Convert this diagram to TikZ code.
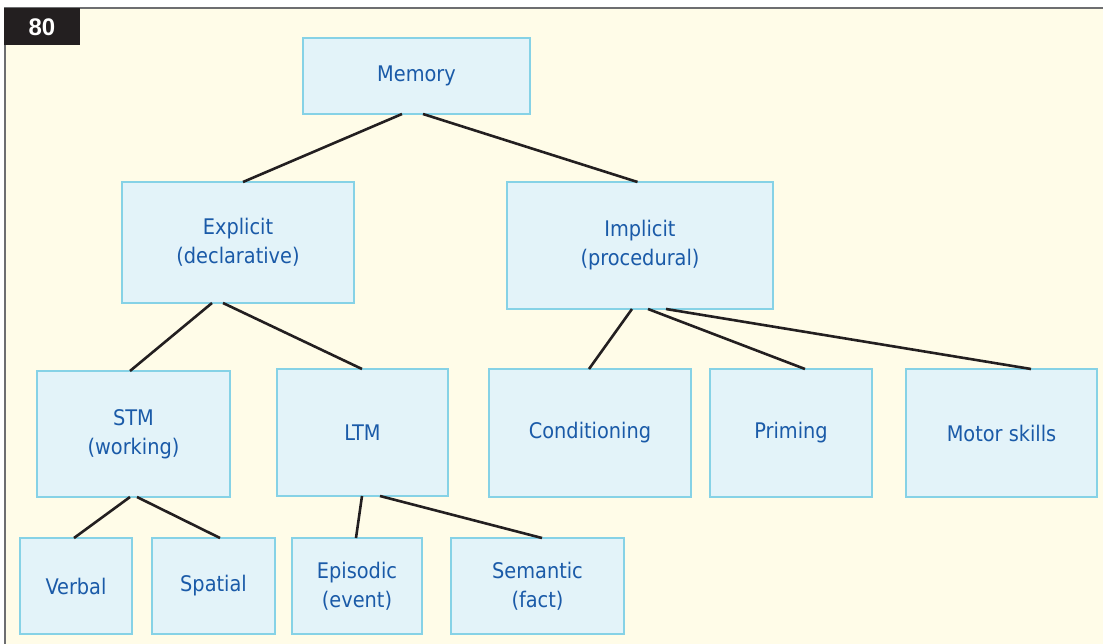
\documentclass[tikz,border=0pt]{standalone}
\usepackage{fontspec}
\setmainfont{DejaVu Sans Condensed}
\newfontfamily\numfont{Liberation Sans}
\definecolor{cream}{HTML}{FFFCE8}
\definecolor{boxfill}{HTML}{E3F3F9}
\definecolor{boxline}{HTML}{86D2E6}
\definecolor{txtblue}{HTML}{1A5AA8}
\definecolor{darkline}{HTML}{231F20}
\definecolor{framegrey}{HTML}{6D6E70}
\pgfdeclarelayer{background}
\pgfsetlayers{background,main}
\begin{document}
\begin{tikzpicture}[x=1pt,y=-1pt,
  membox/.style={draw=boxline, fill=boxfill, line width=2.8pt, inner sep=0pt, outer sep=0pt,
    text=txtblue, align=center, font=\fontsize{21.5}{29}\selectfont},
  link/.style={draw=darkline, line width=2.6pt}]
\useasboundingbox (0,0) rectangle (1103,644);
\fill[white] (0,0) rectangle (1103,644);
\fill[cream] (5,8) rectangle (1103,644);
\draw[framegrey, line width=1.6pt] (4,8) -- (1103,8);
\draw[framegrey, line width=1.6pt] (5,8) -- (5,644);
\node[fill=darkline, minimum width=76pt, minimum height=37pt, inner sep=0pt, outer sep=0pt,
  text=white, font=\numfont\bfseries\fontsize{24}{26}\selectfont] (num) at (42,27) {80};

\node[membox, minimum width=227pt, minimum height=76pt] (mem) at (416.5,76) {Memory};
\node[membox, minimum width=232pt, minimum height=121pt] (expl) at (238,242.5) {Explicit\\(declarative)};
\node[membox, minimum width=266pt, minimum height=127pt] (impl) at (640,245.5) {Implicit\\(procedural)};
\node[membox, minimum width=193pt, minimum height=126pt] (stm) at (133.5,434) {STM\\(working)};
\node[membox, minimum width=171pt, minimum height=127pt] (ltm) at (362.5,432.5) {LTM};
\node[membox, minimum width=202pt, minimum height=128pt] (cond) at (590,433) {Conditioning};
\node[membox, minimum width=162pt, minimum height=128pt] (prim) at (791,433) {Priming};
\node[membox, minimum width=191pt, minimum height=128pt] (motor) at (1001.5,433) {Motor skills};
\node[membox, minimum width=112pt, minimum height=96pt] (verb) at (76,586) {Verbal};
\node[membox, minimum width=123pt, minimum height=96pt] (spat) at (213.5,586) {Spatial};
\node[membox, minimum width=130pt, minimum height=96pt] (epis) at (357,586) {Episodic\\(event)};
\node[membox, minimum width=173pt, minimum height=96pt] (sema) at (537.5,586) {Semantic\\(fact)};

\draw[link] ([xshift=-14.5pt]mem.south) -- ([xshift=5pt]expl.north);
\draw[link] ([xshift=6.5pt]mem.south) -- ([xshift=-2.5pt]impl.north);
\draw[link] ([xshift=-26pt]expl.south) -- ([xshift=-3.5pt]stm.north);
\draw[link] ([xshift=-15pt]expl.south) -- ([xshift=-0.5pt]ltm.north);
\draw[link] ([xshift=-8pt]impl.south) -- ([xshift=-1pt]cond.north);
\draw[link] ([xshift=8pt]impl.south) -- ([xshift=14pt]prim.north);
\draw[link] ([xshift=26pt]impl.south) -- ([xshift=29.5pt]motor.north);
\draw[link] ([xshift=-3.5pt]stm.south) -- ([xshift=-2pt]verb.north);
\draw[link] ([xshift=3.5pt]stm.south) -- ([xshift=6.5pt]spat.north);
\draw[link] ([xshift=-0.5pt]ltm.south) -- ([xshift=-1pt]epis.north);
\draw[link] ([xshift=17.5pt]ltm.south) -- ([xshift=4.5pt]sema.north);
\end{tikzpicture}
\end{document}
